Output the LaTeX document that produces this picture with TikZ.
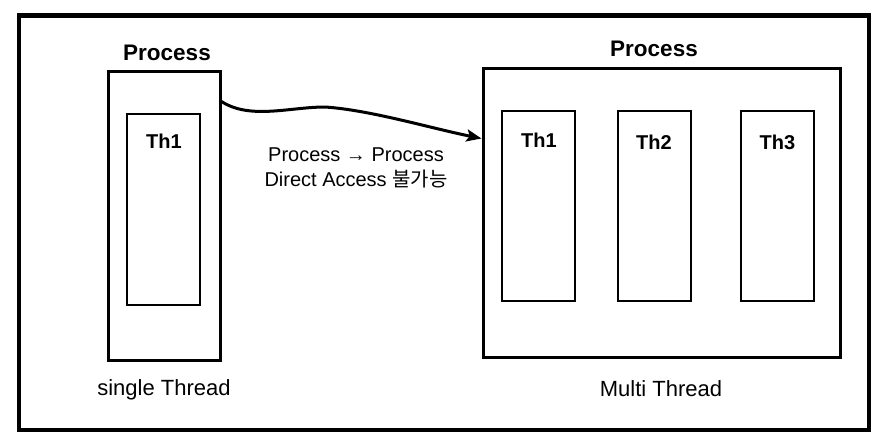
\documentclass[tikz,border=0pt]{standalone}
\usepackage{fontspec}
\setmainfont{Liberation Sans}
\newfontfamily\krfont{Noto Sans CJK KR}
\usetikzlibrary{arrows.meta,calc}
\begin{document}
\begin{tikzpicture}[x=1pt,y=-1pt,
  outerbox/.style={draw=black, line width=4.5pt, rectangle, inner sep=0pt},
  procbox/.style={draw=black, line width=3pt, rectangle, inner sep=0pt},
  thbox/.style={draw=black, line width=2pt, rectangle, inner sep=0pt, minimum width=73pt},
  title/.style={anchor=base, inner sep=0pt, font=\fontsize{22.5}{26}\selectfont\bfseries},
  thlabel/.style={anchor=base, inner sep=0pt, font=\fontsize{20}{24}\selectfont\bfseries},
  caption/.style={anchor=base, inner sep=0pt, font=\fontsize{22}{26}\selectfont},
  midtext/.style={anchor=base, inner sep=0pt, font=\fontsize{20}{24}\selectfont},
  conn/.style={draw=black, line width=3pt, -{Stealth[length=15pt,width=12pt,inset=3pt]}}]
\useasboundingbox (0,0) rectangle (887,445);
\node[outerbox, minimum width=850pt, minimum height=414.5pt] (frame) at (444,222.75) {};
% left process
\node[procbox, minimum width=111.5pt, minimum height=289pt] (p1) at (164.25,215.5) {};
\node[thbox, minimum height=191pt] (p1t1) at (163.5,209.5) {};
\node[title] (p1title) at (167,60) {Process};
\node[thlabel] (p1t1l) at (164,148) {Th1};
\node[caption] (cap1) at (164,395) {single Thread};
% right process
\node[procbox, minimum width=357pt, minimum height=289pt] (p2) at (661.5,212.5) {};
\node[thbox, minimum height=190pt] (p2t1) at (538.5,206) {};
\node[thbox, minimum height=190pt] (p2t2) at (654,206) {};
\node[thbox, minimum height=190pt] (p2t3) at (777,206) {};
\node[title] (p2title) at (654,56) {Process};
\node[thlabel] (p2t1l) at (539,147) {Th1};
\node[thlabel] (p2t2l) at (654,149) {Th2};
\node[thlabel] (p2t3l) at (777.5,149) {Th3};
\node[caption] (cap2) at (661,396) {Multi Thread};
% connector
\coordinate (m) at (325,107);
\draw[conn] ($(p1.north east)+(0,32)$) .. controls (250,120) and (290,107) .. (m)
  .. controls (370,110) and (430,128) .. ($(p2.north west)+(0,72)$);
\node[midtext] (l1) at (356,161) {Process → Process};
\node[midtext] (l2) at (356,186) {Direct Access {\krfont 불가능}};
\end{tikzpicture}
\end{document}
